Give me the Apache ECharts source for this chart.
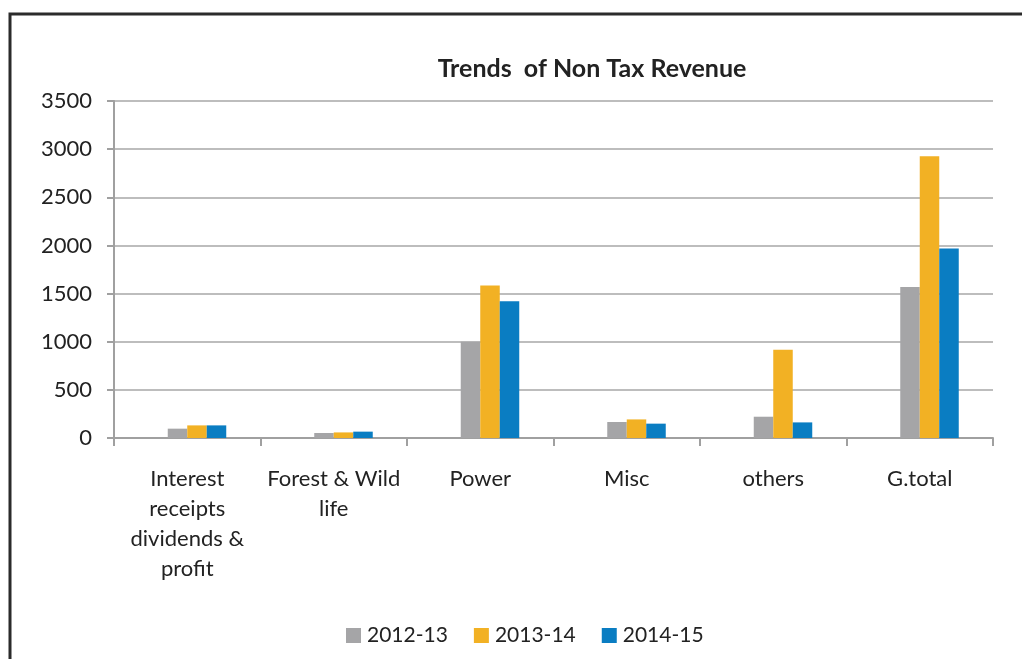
<!DOCTYPE html>
<html>
<head>
<meta charset="utf-8">
<script src="https://cdn.jsdelivr.net/npm/echarts@6/dist/echarts.min.js"></script>
<style>
html,body{margin:0;padding:0;background:#fff;}
#c{width:1022px;height:659px;}
</style>
</head>
<body>
<div id="c"></div>
<script>
const categories = ['Interest\nreceipts\ndividends &\nprofit', 'Forest & Wild\nlife', 'Power', 'Misc', 'others', 'G.total'];
const seriesNames = ['2012-13', '2013-14', '2014-15'];
const s2012 = [97, 52, 1000, 166, 221, 1569];
const s2013 = [131, 58, 1584, 193, 917, 2927];
const s2014 = [131, 66, 1420, 149, 162, 1968];
const yTicks = [0, 500, 1000, 1500, 2000, 2500, 3000, 3500];
const colors = ['#A5A5A7', '#F2B124', '#0A7DC2'];

const font = 'Lato, "Open Sans", sans-serif';
const chart = echarts.init(document.getElementById('c'));
const values = [s2012, s2013, s2014];
const spacer = {
  name: '_spacer', type: 'bar', data: categories.map(() => null),
  barWidth: 19.5, barGap: '0%', silent: true, itemStyle: { color: 'transparent' }
};
chart.setOption({
  animation: false,
  textStyle: { fontFamily: font },
  title: {
    text: 'Trends  of Non Tax Revenue',
    left: 587, top: 51, textAlign: 'center',
    textStyle: { fontSize: 25, fontWeight: 'bold', color: '#222', fontFamily: font }
  },
  graphic: [
    { type: 'polyline', shape: { points: [[10, 659], [10, 14], [1022, 14]] },
      style: { stroke: '#2b2b2b', lineWidth: 3, fill: null } }
  ],
  legend: {
    data: seriesNames,
    left: 341, top: 620, itemWidth: 15, itemHeight: 15, itemGap: 26,
    icon: 'rect',
    textStyle: { fontSize: 21, color: '#222', fontFamily: font, padding: [0, 0, 0, 1] }
  },
  grid: { left: 114, right: 29, top: 101, bottom: 221, containLabel: false },
  xAxis: {
    type: 'category', data: categories,
    axisLine: { lineStyle: { color: '#A0A0A0', width: 2 } },
    axisTick: { show: true, length: 8, lineStyle: { color: '#A0A0A0', width: 2 }, alignWithLabel: false },
    axisLabel: { fontSize: 22, color: '#222', lineHeight: 30, margin: 26, interval: 0, fontFamily: font }
  },
  yAxis: {
    type: 'value', min: yTicks[0], max: yTicks[yTicks.length - 1], interval: 500,
    axisLine: { show: true, lineStyle: { color: '#A0A0A0', width: 2 } },
    axisTick: { show: true, length: 7, lineStyle: { color: '#A0A0A0', width: 2 } },
    splitLine: { lineStyle: { color: '#BDBDBD', width: 2 } },
    axisLabel: { fontSize: 22, color: '#222', margin: 22, fontFamily: font, formatter: v => String(v) }
  },
  series: [spacer].concat(seriesNames.map((n, i) => ({
    name: n, type: 'bar', data: values[i],
    barWidth: 19.5, barGap: '0%',
    itemStyle: { color: colors[i] }
  })))
});
</script>
</body>
</html>
